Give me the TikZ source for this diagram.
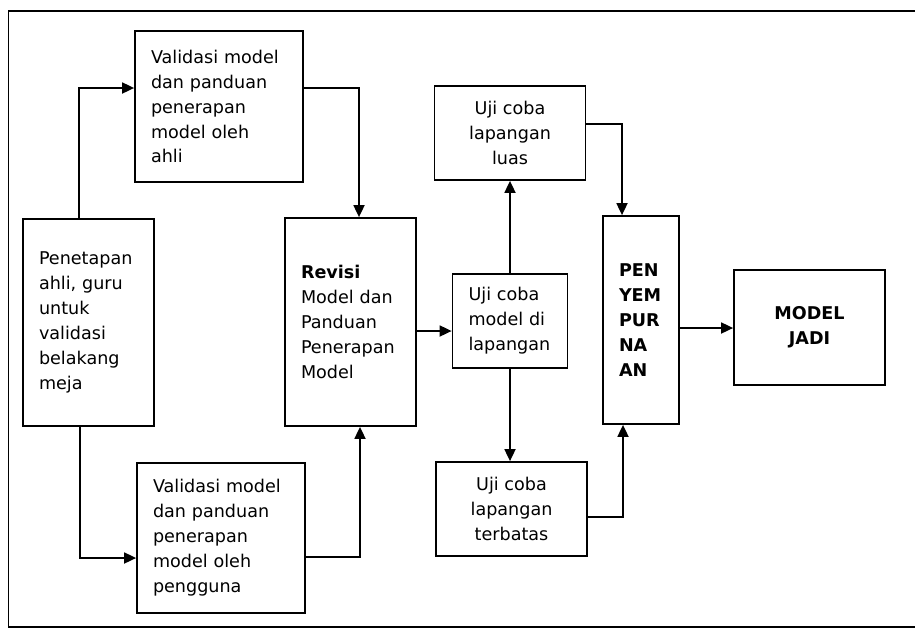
\documentclass[tikz,border=0pt]{standalone}
\usepackage{fontspec}
\setmainfont{DejaVu Sans}
\usepackage{tikz}
\usetikzlibrary{arrows.meta}

\begin{document}
\begin{tikzpicture}[
                block/.style={draw, rectangle, line width=1pt, inner xsep=.32cm, inner ysep=0pt,
                              font=\fontsize{10}{14.2}\selectfont},
                leftblock/.style={block, align=left, text width=#1-.64cm, minimum width=#1},
                midblock/.style={block, align=center, minimum width=#1},
                >={Triangle[length=2.4mm, width=2.2mm]},
                line width=1pt
            ]

                \useasboundingbox (0,0) rectangle (18.3,-12.58);
                \draw (18.4,-.22) -- (.17,-.22) -- (.17,-12.54) -- (18.4,-12.54);

                \node[leftblock=2.62cm, minimum height=4.14cm] (setup) at (1.77,-6.45)
                    {Penetapan\\ahli, guru\\untuk\\validasi\\belakang\\meja};
                \node[leftblock=3.36cm, minimum height=3.02cm] (ahli_val) at (4.38,-2.13)
                    {Validasi model\\dan panduan\\penerapan\\model oleh\\ahli};
                \node[leftblock=3.36cm, minimum height=3cm] (user_val) at (4.42,-10.76)
                    {Validasi model\\dan panduan\\penerapan\\model oleh\\pengguna};
                \node[leftblock=2.62cm, minimum height=4.16cm] (revisi) at (7.01,-6.44)
                    {\textbf{Revisi}\\Model dan\\Panduan\\Penerapan\\Model};
                \node[leftblock=2.3cm, minimum height=1.88cm] (uji_model) at (10.2,-6.42)
                    {Uji coba\\model di\\lapangan};
                \node[midblock=3.02cm, minimum height=1.88cm] (uji_luas) at (10.2,-2.66)
                    {Uji coba\\lapangan\\luas};
                \node[midblock=3.02cm, minimum height=1.88cm] (uji_terbatas) at (10.23,-10.18)
                    {Uji coba\\lapangan\\terbatas};
                \node[leftblock=1.52cm, minimum height=4.16cm, font=\fontsize{10}{14.2}\selectfont\bfseries] (sempurna) at (12.82,-6.4)
                    {PEN\\YEM\\PUR\\NA\\AN};
                \node[midblock=3.02cm, minimum height=2.3cm, font=\fontsize{10}{14.2}\selectfont\bfseries] (jadi) at (16.19,-6.55)
                    {MODEL\\JADI};

                \draw[->] ([xshift=-.19cm]setup.north) |- ([yshift=.37cm]ahli_val.west);
                \draw[->] ([xshift=-.17cm]setup.south) |- ([yshift=-.4cm]user_val.west);
                \draw[->] ([yshift=.37cm]ahli_val.east) -| ([xshift=.17cm]revisi.north);
                \draw[->] ([yshift=-.38cm]user_val.east) -| ([xshift=.19cm]revisi.south);
                \draw[->] ([yshift=-.18cm]revisi.east) coordinate (r) -- (r -| uji_model.west);
                \draw[->] (uji_model.north) -- (uji_model.north |- uji_luas.south);
                \draw[->] (uji_model.south) -- (uji_model.south |- uji_terbatas.north);
                \draw[->] ([yshift=.18cm]uji_luas.east) -| ([xshift=-.38cm]sempurna.north);
                \draw[->] ([yshift=-.16cm]uji_terbatas.east) -| ([xshift=-.36cm]sempurna.south);
                \draw[->] ([yshift=-.16cm]sempurna.east) coordinate (s) -- (s -| jadi.west);

            \end{tikzpicture}
\end{document}
